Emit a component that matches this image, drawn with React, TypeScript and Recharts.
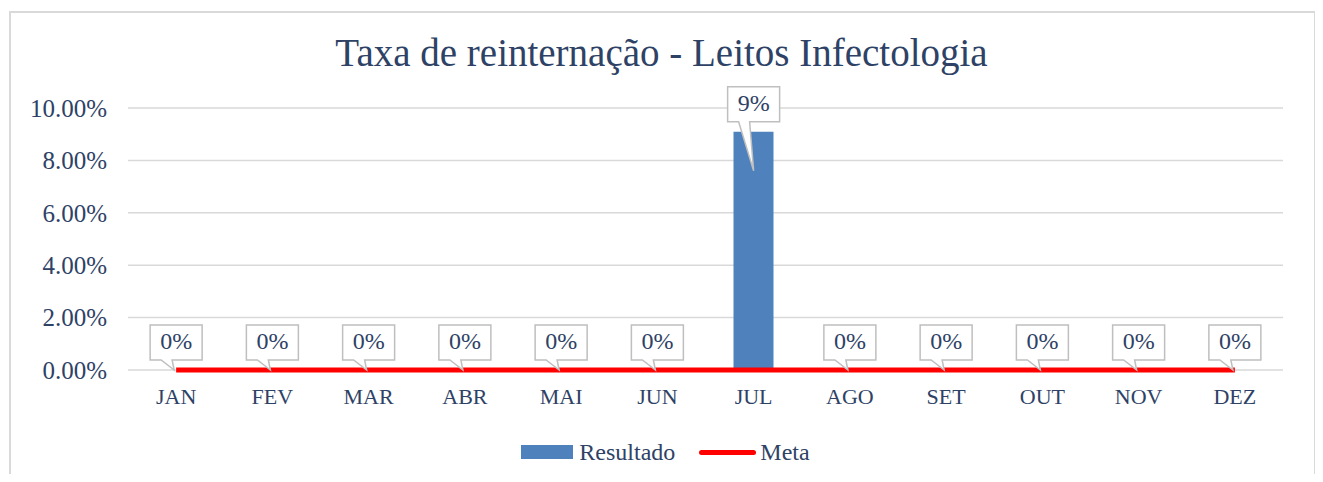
import React from "react";
import {
  ComposedChart,
  Bar,
  Line,
  XAxis,
  YAxis,
  CartesianGrid,
  Legend,
  LabelList,
} from "recharts";

const months = ["JAN", "FEV", "MAR", "ABR", "MAI", "JUN", "JUL", "AGO", "SET", "OUT", "NOV", "DEZ"];
const resultado = [0, 0, 0, 0, 0, 0, 0.0909, 0, 0, 0, 0, 0];
const meta = [0, 0, 0, 0, 0, 0, 0, 0, 0, 0, 0, 0];
const yTicks = [0, 0.02, 0.04, 0.06, 0.08, 0.1];

const data = months.map((m, i) => ({ month: m, resultado: resultado[i], meta: meta[i] }));

const FONT = "'Liberation Serif', serif";
const TEXT = "#2E4266";

// callout label drawn at each Resultado point
const Callout = (props: any) => {
  const { x, y, value } = props;
  const cx = x;
  const w = 52;
  const h = 35;
  const boxBottom = y - 10;
  const boxTop = boxBottom - h;
  const left = cx - w / 2;
  const tipY = value > 0 ? y + 39 : y;
  const tipX = value > 0 ? cx : cx - 2;
  const pct = Math.round(value * 100) + "%";
  return (
    <g>
      <path
        d={`M${left},${boxTop} H${left + w} V${boxBottom} H${cx - 4} L${tipX},${tipY} L${cx - 15},${boxBottom} H${left} Z`}
        fill="#fff"
        stroke="#bfbfbf"
        strokeWidth={1.5}
      />
      <text
        x={cx}
        y={boxTop + h / 2 + 1}
        textAnchor="middle"
        dominantBaseline="middle"
        fontFamily={FONT}
        fontSize={24}
        fill={TEXT}
      >
        {pct}
      </text>
    </g>
  );
};

const LegendContent = () => (
  <div
    style={{
      display: "flex",
      justifyContent: "center",
      alignItems: "center",
      height: 24,
      fontFamily: FONT,
      fontSize: 24,
      color: TEXT,
      paddingLeft: 8,
    }}
  >
    <span style={{ display: "inline-block", width: 52, height: 14, background: "#4F81BD", marginRight: 6 }} />
    <span style={{ marginRight: 24, fontFamily: FONT }}>Resultado</span>
    <span style={{ display: "inline-block", width: 57, height: 5, borderRadius: 3, background: "#FF0000", marginRight: 4 }} />
    <span style={{ fontFamily: FONT }}>Meta</span>
  </div>
);

export default function App() {
  return (
    <div style={{ position: "relative", width: 1323, height: 482, margin: -8, background: "#fff", overflow: "hidden" }}>
      <div style={{ position: "absolute", left: 2, top: 0, width: 2, height: 482, background: "#000" }} />
      <div
        style={{
          position: "absolute",
          left: 9,
          top: 11,
          width: 1303,
          height: 480,
          border: "2px solid #d9d9d9",
          borderBottom: "none",
        }}
      />
      <div
        style={{
          position: "absolute",
          top: 30,
          left: 0,
          width: 1323,
          textAlign: "center",
          fontFamily: FONT,
          fontSize: 39,
          color: TEXT,
        }}
      >
        Taxa de reinternação - Leitos Infectologia
      </div>
      <div style={{ position: "absolute", left: 0, top: 0 }}>
        <ComposedChart
          width={1323}
          height={482}
          data={data}
          margin={{ top: 108, right: 40, left: 18, bottom: 58 }}
          barCategoryGap={28}
        >
          <CartesianGrid vertical={false} stroke="#d9d9d9" strokeWidth={1.5} />
          <XAxis
            dataKey="month"
            axisLine={false}
            tickLine={false}
            tickSize={0}
            tickMargin={18}
            interval={0}
            tick={{ fontFamily: FONT, fontSize: 22, fill: TEXT }}
          />
          <YAxis
            width={110}
            domain={[0, 0.1]}
            ticks={yTicks}
            axisLine={false}
            tickLine={false}
            tickSize={0}
            tickMargin={21}
            tickFormatter={(v: number) => (v * 100).toFixed(2) + "%"}
            tick={{ fontFamily: FONT, fontSize: 25, fill: TEXT }}
          />
          <Legend
            content={<LegendContent />}
            wrapperStyle={{ top: 440, bottom: "auto", left: 0, width: 1323, height: 24 }}
          />
          <Bar dataKey="resultado" name="Resultado" fill="#4F81BD" isAnimationActive={false} />
          <Line
            dataKey="meta"
            name="Meta"
            stroke="#FF0000"
            strokeWidth={5}
            dot={false}
            isAnimationActive={false}
          />
          <Line
            dataKey="resultado"
            stroke="none"
            dot={false}
            activeDot={false}
            legendType="none"
            isAnimationActive={false}
          >
            <LabelList dataKey="resultado" content={<Callout />} />
          </Line>
        </ComposedChart>
      </div>
    </div>
  );
}
